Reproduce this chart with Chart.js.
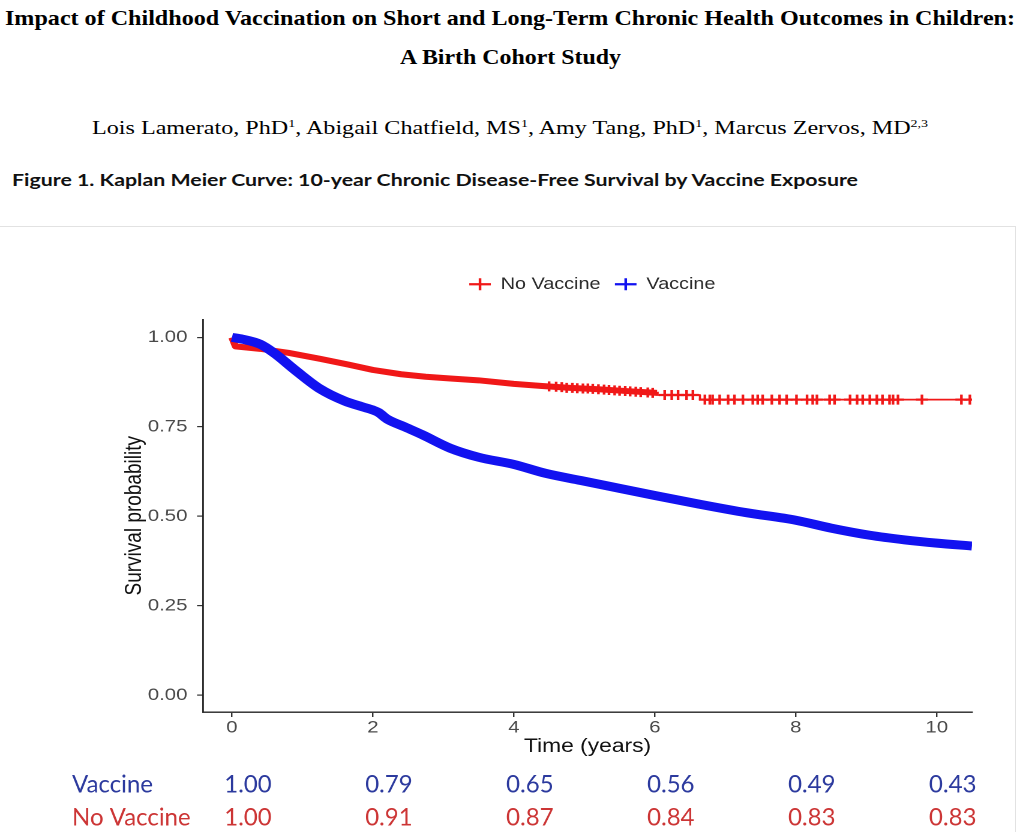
<!DOCTYPE html>
<html>
<head>
<meta charset="utf-8">
<script src="https://cdn.jsdelivr.net/npm/chart.js@4.4.1/dist/chart.umd.min.js"></script>
<style>
html,body{margin:0;padding:0;background:#fff;width:1024px;height:832px;overflow:hidden;position:relative;}
.hd{position:absolute;white-space:nowrap;line-height:1;transform-origin:0 0;color:#000;}
#t1{font:bold 21px "Liberation Serif";}
#t2{font:bold 21px "Liberation Serif";}
#au{font:19px "Liberation Serif";}
#au sup{font-size:11px;vertical-align:7px;line-height:0;}
#cap{font:bold 17px Lato;color:#111;}
#frame{position:absolute;left:-2px;top:226px;width:1017px;height:640px;border-top:1px solid #e2e2e2;border-right:1px solid #e2e2e2;}
#wrap{position:absolute;left:0;top:230px;width:853.33px;height:602px;transform:scaleX(1.2);transform-origin:0 0;}
</style>
</head>
<body>
<div id="t1" class="hd">Impact of Childhood Vaccination on Short and Long-Term Chronic Health Outcomes in Children:</div>
<div id="t2" class="hd">A Birth Cohort Study</div>
<div id="au" class="hd">Lois Lamerato, PhD<sup>1</sup>, Abigail Chatfield, MS<sup>1</sup>, Amy Tang, PhD<sup>1</sup>, Marcus Zervos, MD<sup>2,3</sup></div>
<div id="cap" class="hd">Figure 1. Kaplan Meier Curve: 10-year Chronic Disease-Free Survival by Vaccine Exposure</div>
<div id="frame"></div>
<div id="wrap"><canvas id="c"></canvas></div>
<script>
// ---- data ----
const xTicks = [0, 2, 4, 6, 8, 10];
const yTicks = [0, 0.25, 0.5, 0.75, 1];

const seriesLabels = ['No Vaccine', 'Vaccine'];

const vaccineT = [0, 0.15, 0.4, 0.6, 0.9, 1.25, 1.6, 1.85, 2.0, 2.08, 2.2, 2.45, 2.7, 3.1, 3.5, 4.0, 4.45, 4.95, 5.5, 6.0, 6.6, 7.3, 8.0, 8.5, 9.05, 9.55, 10.0, 10.5];
const vaccineS = [1.0, 0.995, 0.981, 0.956, 0.908, 0.856, 0.822, 0.806, 0.797, 0.790, 0.772, 0.750, 0.728, 0.690, 0.665, 0.645, 0.620, 0.600, 0.578, 0.558, 0.535, 0.510, 0.489, 0.467, 0.447, 0.434, 0.425, 0.417];

const noVaccineT = [0, 0.05, 0.4, 0.8, 1.25, 1.65, 2.0, 2.4, 2.75, 3.1, 3.5, 4.0, 4.4, 4.8, 5.2, 5.6, 6.03, 6.03, 6.64, 6.64, 10.5];
const noVaccineS = [1.0, 0.975, 0.968, 0.957, 0.940, 0.924, 0.909, 0.897, 0.890, 0.885, 0.880, 0.870, 0.864, 0.859, 0.855, 0.850, 0.845, 0.839, 0.839, 0.826, 0.826];

const censorT = [4.5, 4.6, 4.68, 4.75, 4.83, 4.9, 4.98, 5.05, 5.12, 5.2, 5.28, 5.35, 5.43, 5.5, 5.58, 5.65, 5.73, 5.8, 5.9, 5.97,
  6.14, 6.24, 6.33, 6.45, 6.54,
  6.71, 6.78, 6.82, 6.92, 7.04, 7.13, 7.25, 7.39, 7.46, 7.53, 7.66, 7.77, 7.87, 8.01, 8.16, 8.24, 8.30, 8.48, 8.55,
  8.77, 8.87, 8.95, 9.05, 9.15, 9.23, 9.33, 9.38, 9.45, 9.79, 10.35, 10.47];
const censorS = [0.863, 0.862, 0.861, 0.859, 0.859, 0.858, 0.857, 0.857, 0.856, 0.855, 0.854, 0.853, 0.852, 0.851, 0.850, 0.849, 0.848, 0.847, 0.846, 0.845,
  0.839, 0.839, 0.839, 0.839, 0.839,
  0.826, 0.826, 0.826, 0.826, 0.826, 0.826, 0.826, 0.826, 0.826, 0.826, 0.826, 0.826, 0.826, 0.826, 0.826, 0.826, 0.826, 0.826, 0.826,
  0.826, 0.826, 0.826, 0.826, 0.826, 0.826, 0.826, 0.826, 0.826, 0.826, 0.826, 0.826];

const tableTimes = [0, 2, 4, 6, 8, 10];
const tableVaccine = ['1.00', '0.79', '0.65', '0.56', '0.49', '0.43'];
const tableNoVaccine = ['1.00', '0.91', '0.87', '0.84', '0.83', '0.83'];

// ---- styling ----
const STRETCH = 1.2;
const FAM = '"Liberation Sans", Arial, sans-serif';
const RED = '#f01818';
const BLUE = '#1212f0';

const pts = (t, s) => t.map((v, i) => ({x: v, y: s[i]}));

const helperPlugin = {
  id: 'helper',
  afterLayout(chart) {
    const lg = chart.legend, a = chart.chartArea;
    if (lg) { lg.left = a.left + 4; lg.right = a.right + 4; lg.width = a.right - a.left; }
  },
  afterDraw(chart) {
    const {ctx} = chart;
    const xs = chart.scales.x;
    ctx.save();
    ctx.scale(1 / STRETCH, 1);
    ctx.font = '24px Lato';
    ctx.textBaseline = 'middle';
    const rows = [
      {label: 'Vaccine', vals: tableVaccine, color: '#2c3a9e', y: 555},
      {label: 'No Vaccine', vals: tableNoVaccine, color: '#cc3535', y: 588}
    ];
    rows.forEach(r => {
      ctx.fillStyle = r.color;
      ctx.textAlign = 'left';
      ctx.fillText(r.label, 72, r.y);
      ctx.textAlign = 'center';
      r.vals.forEach((v, i) => {
        ctx.fillText(v, xs.getPixelForValue(tableTimes[i]) * STRETCH + 16, r.y);
      });
    });
    ctx.restore();
  }
};

new Chart(document.getElementById('c'), {
  type: 'line',
  data: {
    datasets: [
      {
        label: seriesLabels[0],
        data: pts(noVaccineT, noVaccineS),
        borderColor: RED, backgroundColor: RED,
        borderWidth: 6, pointRadius: 0, tension: 0,
        borderJoinStyle: 'round', borderCapStyle: 'butt',
        order: 2,
        segment: {
          borderWidth: c => c.p0.parsed.x < 6.03 ? 6 : 1.8
        }
      },
      {
        label: seriesLabels[1],
        data: pts(vaccineT, vaccineS),
        borderColor: BLUE, backgroundColor: BLUE,
        borderWidth: 9, pointRadius: 0,
        cubicInterpolationMode: 'monotone',
        borderJoinStyle: 'round', borderCapStyle: 'butt',
        order: 1
      },
      {
        label: 'censor',
        type: 'scatter',
        data: pts(censorT, censorS),
        borderColor: RED, backgroundColor: RED,
        pointStyle: 'cross', pointRadius: 5, pointBorderWidth: 2.2,
        showLine: false,
        order: 0
      }
    ]
  },
  options: {
    responsive: true,
    maintainAspectRatio: false,
    animation: false,
    devicePixelRatio: 2,
    layout: {padding: {top: 34, left: 100, right: 43.33, bottom: 74}},
    plugins: {
      tooltip: {enabled: false},
      title: {display: true, text: '', weight: 500, padding: {top: 0, bottom: 0}, font: {size: 17, lineHeight: 1}},
      legend: {
        display: true,
        position: 'top',
        labels: {
          usePointStyle: true,
          pointStyleWidth: 18,
          boxHeight: 8.5,
          padding: 12,
          color: '#2a2a2a',
          font: {size: 16.5, family: FAM},
          generateLabels: chart => chart.data.datasets.slice(0, 2).map((ds, i) => ({
            text: ds.label, fillStyle: ds.borderColor, strokeStyle: ds.borderColor,
            lineWidth: 2.2, pointStyle: 'cross', hidden: false, datasetIndex: i, fontColor: '#2a2a2a'
          }))
        }
      }
    },
    scales: {
      x: {
        type: 'linear', min: -0.41, max: 10.5,
        afterBuildTicks: sc => { sc.ticks = xTicks.map(v => ({value: v})); },
        afterFit: sc => { sc.height = 46; },
        grid: {drawOnChartArea: false, drawTicks: true, tickLength: 5, color: '#333', lineWidth: 1.2},
        border: {display: true, color: '#222', width: 1.4},
        ticks: {color: '#4a4a4a', font: {size: 17, family: FAM}, padding: 0.5, maxRotation: 0, callback: v => String(v)},
        title: {display: true, text: 'Time (years)', color: '#111', font: {size: 19, family: FAM}, padding: {top: 0, bottom: 0}}
      },
      y: {
        type: 'linear', min: -0.047, max: 1.05,
        afterBuildTicks: sc => { sc.ticks = yTicks.map(v => ({value: v})); },
        afterFit: sc => { sc.width = 69.2; },
        grid: {drawOnChartArea: false, drawTicks: true, tickLength: 5, color: '#333', lineWidth: 1.2},
        border: {display: true, color: '#222', width: 1.4},
        ticks: {color: '#4a4a4a', font: {size: 17, family: FAM}, padding: 8, callback: v => Number(v).toFixed(2)},
        title: {display: true, text: 'Survival probability', color: '#111', font: {size: 19, family: FAM}, padding: {top: 1, bottom: 0}}
      }
    }
  },
  plugins: [helperPlugin]
});

// ---- header text fitting ----
function place(id, left, width, centerY, size) {
  const el = document.getElementById(id);
  el.style.transform = 'none';
  const r = el.getBoundingClientRect();
  el.style.left = left + 'px';
  el.style.top = (centerY - size * 0.55) + 'px';
  el.style.transform = 'scaleX(' + (width / r.width) + ')';
}
function layoutHeaders() {
  place('t1', 5, 1010, 18, 21);
  place('t2', 400, 221, 57, 21);
  place('au', 92, 836, 127, 19);
  place('cap', 12, 846, 178, 17);
}
layoutHeaders();
if (document.fonts && document.fonts.ready) document.fonts.ready.then(layoutHeaders);
</script>
</body>
</html>
